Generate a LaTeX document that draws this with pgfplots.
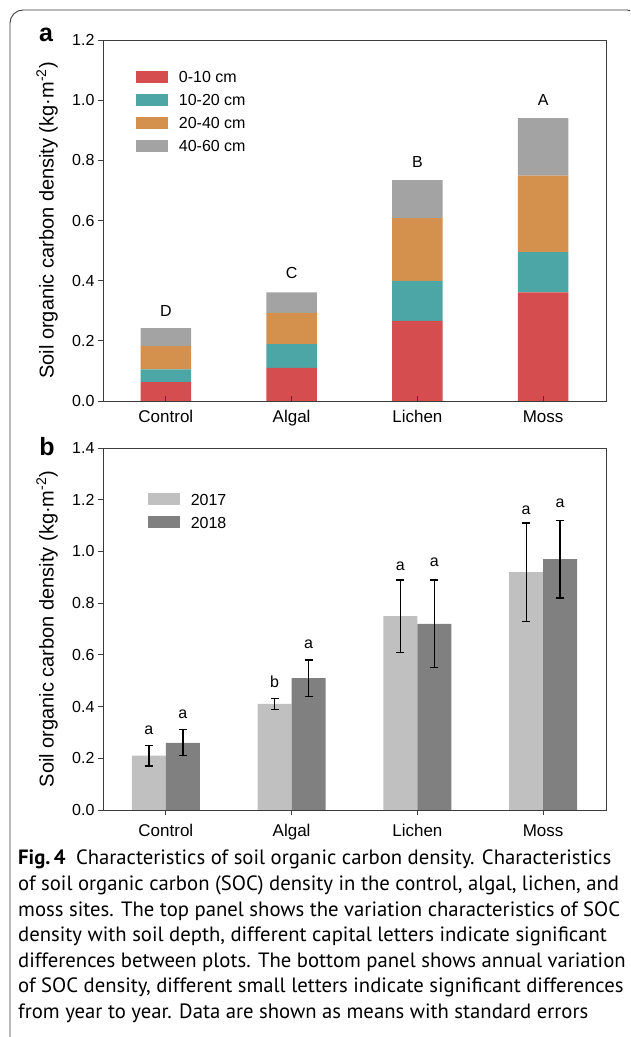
\documentclass[border=0pt]{standalone}
\usepackage{fontspec}
\setmainfont{Liberation Sans}
\newfontfamily\capfont{PT Sans}
\usepackage{pgfplots}
\pgfplotsset{compat=1.18}
\definecolor{cred}{RGB}{214,77,79}
\definecolor{cteal}{RGB}{77,166,166}
\definecolor{corange}{RGB}{212,145,77}
\definecolor{cgray}{RGB}{163,163,163}
\definecolor{cseventeen}{RGB}{192,192,192}
\definecolor{ceighteen}{RGB}{128,128,128}
\definecolor{axcol}{RGB}{60,60,60}
\pgfplotsset{
  ybar legend/.style={legend image code/.code={\fill[##1] (0pt,-6pt) rectangle (32pt,6pt);}},
  patchlegend/.style={legend image code/.code={\fill[##1] (0pt,-6pt) rectangle (32pt,6pt);}},
  panel/.style={
    scale only axis, width=503pt,
    xmin=-0.5, xmax=3.5,
    xtick={0,1,2,3}, xticklabels={Control,Algal,Lichen,Moss},
    axis on top,
    tick pos=left,
    xtick align=inside, ytick align=outside,
    major tick length=5pt,
    axis line style={axcol, line width=0.9pt},
    every tick/.style={axcol, line width=0.9pt},
    x tick label style={font=\fontsize{17}{17}\selectfont, yshift=-6pt},
    y tick label style={font=\fontsize{16}{16}\selectfont},
    yticklabel style={/pgf/number format/.cd, fixed, fixed zerofill, precision=1, assume math mode=true},
    ylabel={Soil organic carbon density (kg·m\textsuperscript{-2})},
    ylabel style={font=\fontsize{20}{20}\selectfont, at={(axis description cs:-0.111,0.5)}, anchor=center},
    legend cell align=left,
    legend style={draw=none, fill=none, font=\fontsize{16}{16}\selectfont, inner sep=0pt, row sep=11pt,
      nodes={inner sep=0pt, text height=12pt, text depth=0pt}},
  }
}
\begin{document}
\begin{tikzpicture}[x=1pt,y=1pt]
\path[use as bounding box] (0,0) rectangle (630,1037);
\begin{scope}
\clip (0,0) rectangle (630,1037);
\draw[axcol, line width=0.9pt, rounded corners=13pt] (10,-20) rectangle (640,1027);
\end{scope}
% panel a
\begin{axis}[panel, at={(103pt,636pt)}, anchor=south west, height=361pt,
  ymin=0, ymax=1.2, ytick={0,0.2,0.4,0.6,0.8,1.0,1.2},
  ybar stacked, bar width=0.4,
  legend style={at={(axis description cs:0.065,0.915)}, anchor=north west}]
\addplot[fill=cred, draw=none, patchlegend] coordinates {(0,0.063) (1,0.110) (2,0.266) (3,0.361)};
\addplot[fill=cteal, draw=none, patchlegend] coordinates {(0,0.042) (1,0.079) (2,0.133) (3,0.134)};
\addplot[fill=corange, draw=none, patchlegend] coordinates {(0,0.077) (1,0.104) (2,0.209) (3,0.254)};
\addplot[fill=cgray, draw=none, patchlegend] coordinates {(0,0.060) (1,0.068) (2,0.126) (3,0.191)};
\legend{\hspace{11pt}0-10 cm, \hspace{11pt}10-20 cm, \hspace{11pt}20-40 cm, \hspace{11pt}40-60 cm}
\node[font=\fontsize{16}{16}\selectfont] at (axis cs:0,0.298) {D};
\node[font=\fontsize{16}{16}\selectfont] at (axis cs:1,0.425) {C};
\node[font=\fontsize{16}{16}\selectfont] at (axis cs:2,0.795) {B};
\node[font=\fontsize{16}{16}\selectfont] at (axis cs:3,0.999) {A};
\end{axis}
% panel b
\begin{axis}[panel, at={(103pt,227pt)}, anchor=south west, height=362pt,
  ymin=0, ymax=1.4, ytick={0,0.2,0.4,0.6,0.8,1.0,1.2,1.4},
  ybar, bar width=0.27,
  legend style={at={(axis description cs:0.0886,0.876)}, anchor=north west},
  error bars/y dir=both, error bars/y explicit,
  error bars/error bar style={black, line width=1.3pt},
  error bars/error mark options={rotate=90, mark size=4pt, black, line width=1.3pt}]
\addplot[fill=cseventeen, draw=none, bar shift=-0.135, patchlegend] coordinates {(0,0.21) +- (0,0.04) (1,0.41) +- (0,0.02) (2,0.75) +- (0,0.14) (3,0.92) +- (0,0.19)};
\addplot[fill=ceighteen, draw=none, bar shift=0.135, patchlegend] coordinates {(0,0.26) +- (0,0.05) (1,0.51) +- (0,0.07) (2,0.72) +- (0,0.17) (3,0.97) +- (0,0.15)};
\legend{\hspace{11pt}2017, \hspace{11pt}2018}
\node[font=\fontsize{16}{16}\selectfont] at (axis cs:-0.135,0.307) {a};
\node[font=\fontsize{16}{16}\selectfont] at (axis cs:0.135,0.370) {a};
\node[font=\fontsize{16}{16}\selectfont] at (axis cs:0.865,0.497) {b};
\node[font=\fontsize{16}{16}\selectfont] at (axis cs:1.135,0.641) {a};
\node[font=\fontsize{16}{16}\selectfont] at (axis cs:1.865,0.942) {a};
\node[font=\fontsize{16}{16}\selectfont] at (axis cs:2.135,0.957) {a};
\node[font=\fontsize{16}{16}\selectfont] at (axis cs:2.865,1.161) {a};
\node[font=\fontsize{16}{16}\selectfont] at (axis cs:3.135,1.187) {a};
\end{axis}
\node[font=\bfseries\fontsize{25}{25}\selectfont] at (46,1002) {a};
\node[font=\bfseries\fontsize{25}{25}\selectfont] at (47,590) {b};
\node[anchor=north west, inner sep=0pt, align=left, font=\capfont\fontsize{20.7}{25.6}\selectfont] at (18,1037-850) {%
{\bfseries Fig.\,4}\enspace Characteristics of soil organic carbon density. Characteristics\\
of soil organic carbon (SOC) density in the control, algal, lichen, and\\
moss sites. The top panel shows the variation characteristics of SOC\\
density with soil depth, different capital letters indicate significant\\
differences between plots. The bottom panel shows annual variation\\
of SOC density, different small letters indicate significant differences\\
from year to year. Data are shown as means with standard errors};
\end{tikzpicture}
\end{document}
